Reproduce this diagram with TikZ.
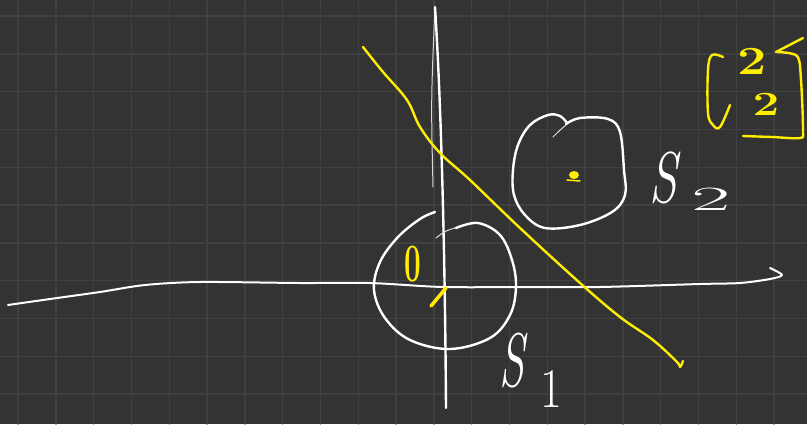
\documentclass[tikz,border=0pt]{standalone}
\definecolor{bgdark}{HTML}{333333}
\definecolor{gridc}{HTML}{404040}
\definecolor{hlyellow}{HTML}{FFEE00}
\begin{document}
\begin{tikzpicture}[x=1pt,y=-1pt,line cap=round,line join=round,
  wstroke/.style={draw=white,line width=2.4pt},
  thinw/.style={draw=white!85!black,line width=1pt},
  ystroke/.style={draw=hlyellow,line width=2.4pt},
  gridline/.style={draw=gridc,line width=1.4pt},
  wtext/.style={text=white,inner sep=0pt},
  ytext/.style={text=hlyellow,inner sep=0pt,font=\bfseries}]
\fill[bgdark] (0,0) rectangle (807,424);
\useasboundingbox (0,0) rectangle (807,424);
% grid
\foreach \i in {0,...,21} \draw[gridline] ({18+37.8*\i},0) -- ({18+37.8*\i},424);
\foreach \j in {0,...,11} \draw[gridline] (0,{16+37.8*\j}) -- (807,{16+37.8*\j});
% horizontal axis
\draw[wstroke,line width=2pt] plot[smooth,tension=0.5] coordinates {(8,305) (50,299) (100,292) (145,285) (200,282) (300,283) (370,283) (443,287) (530,287) (600,287) (700,284) (740,283) (770,279) (782,275) (770,268)};
% vertical axis
\draw[thinw] (433,187) .. controls (431,100) .. (435,7);
\draw[wstroke] (435,7) .. controls (441,100) and (445,250) .. (446,408);
% yellow line
\draw[ystroke] plot[smooth,tension=0.6] coordinates {(363,47) (383,72) (407,100) (420,127) (440,153) (470,180) (520,228) (580,283) (620,317) (653,340) (677,362) (680,367) (683,361)};
% circle S1
\draw[thinw] (436,238) .. controls (445,231) .. (458,227);
\draw[wstroke] plot[smooth,tension=0.6] coordinates {(456,228) (478,223) (500,235) (512,260) (516,287) (510,315) (490,338) (450,349) (410,340) (385,318) (374,290) (380,262) (398,237) (420,219) (435,212)};
% circle S2
\draw[thinw] (553,137) .. controls (560,130) .. (566,125);
\draw[wstroke] plot[smooth,tension=0.6] coordinates {(566,124) (580,118) (608,119) (620,132) (624,170) (625,195) (612,212) (580,225) (545,228) (525,215) (514,195) (513,170) (518,145) (530,125) (548,115) (560,116) (567,123)};
% yellow marks
\node[ytext,xscale=0.55] (zero) at (413,264) {\fontsize{54}{54}\selectfont 0};
\draw[ystroke,line width=3.5pt] (431,306) -- (446,288);
\fill[hlyellow] (574,175) ellipse[x radius=5,y radius=4];
\draw[ystroke,line width=1.5pt] (567,180) -- (580,181);
% labels S1, S2
\node[wtext,xscale=0.6] (s1) at (512,361) {\fontsize{76}{76}\selectfont\itshape S};
\node[wtext,xscale=0.85] (s1sub) at (551,389) {\fontsize{56}{56}\selectfont 1};
\node[wtext,xscale=0.7] (s2) at (663,178) {\fontsize{72}{72}\selectfont\itshape S};
\node[wtext,xscale=2.5] (s2sub) at (711,199) {\fontsize{34}{34}\selectfont 2};
% matrix
\draw[ystroke] plot[smooth,tension=0.6] coordinates {(723,57) (712,55) (708,70) (708,113) (713,125) (720,127) (730,105)};
\draw[ystroke] (776,52) -- (803,38);
\draw[ystroke] plot[smooth,tension=0.5] coordinates {(776,52) (797,56) (801,80) (803,130) (800,138) (772,137) (743,136)};
\node[ytext,xscale=1.3] (m1) at (752,61) {\fontsize{40}{40}\selectfont 2};
\node[ytext,xscale=1.4] (m2) at (766,104) {\fontsize{34}{34}\selectfont 2};
\end{tikzpicture}
\end{document}
